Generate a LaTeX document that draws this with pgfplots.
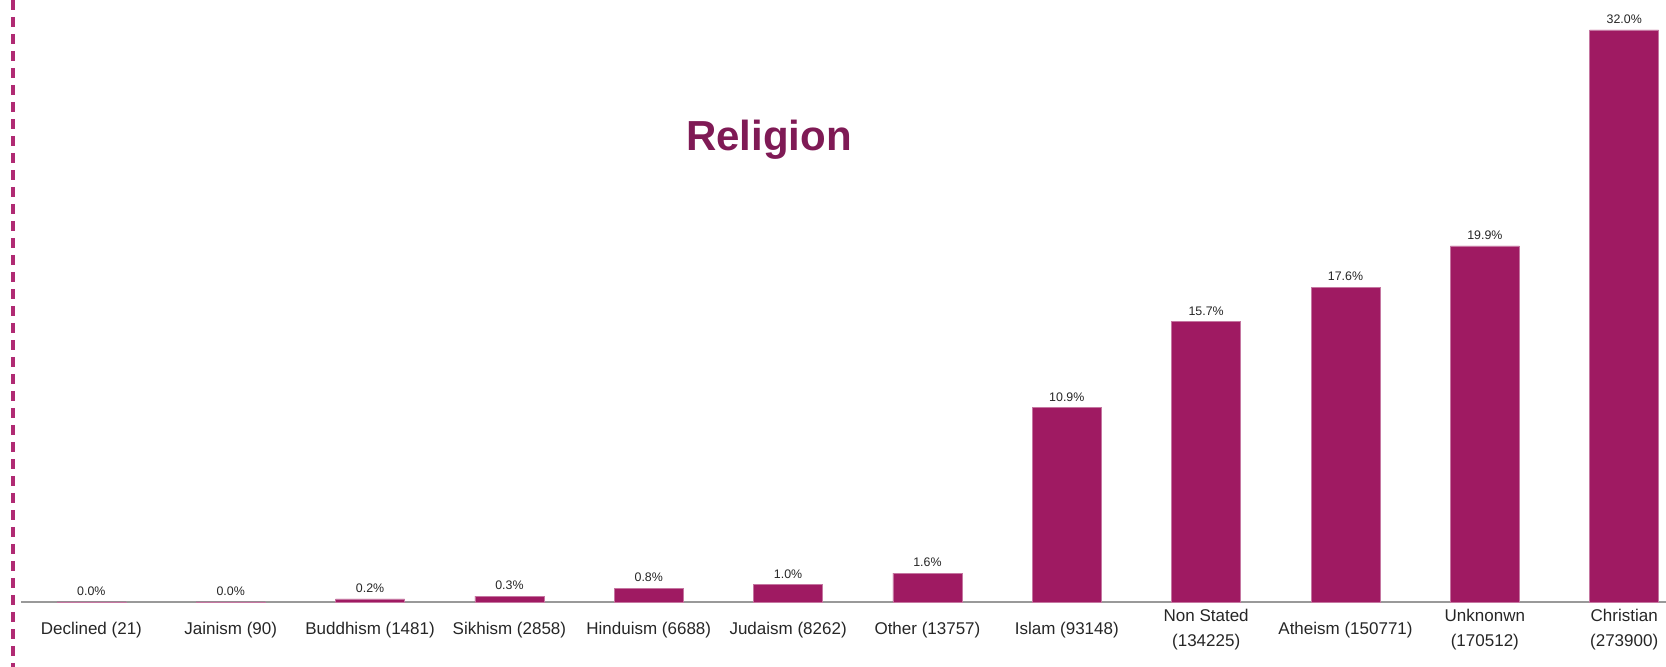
\documentclass[border=0pt]{standalone}
\usepackage{pgfplots}
\pgfplotsset{compat=1.18}
\usepackage{fontspec}
\setmainfont{Liberation Sans}
\definecolor{barcol}{HTML}{9F1A62}
\definecolor{titlecol}{HTML}{7F1A55}
\definecolor{dashcol}{HTML}{B02A73}
\begin{document}
\begin{tikzpicture}[x=1pt,y=1pt]
\useasboundingbox (0,0) rectangle (833,333.5);
\draw[dashcol, line width=2pt, dash pattern=on 5pt off 3.5pt] (6.5,333.5) -- (6.5,0);
\begin{axis}[
  at={(10.5pt,32.5pt)}, anchor=south west,
  scale only axis, width=822.5pt, height=301pt,
  xmin=-0.505, xmax=11.3, ymin=0, ymax=33.68,
  axis y line=none, axis x line=bottom,
  x axis line style={-, draw=black!40, line width=0.6pt},
  major tick length=0pt,
  ytick=\empty,
  xtick={0,...,11},
  xticklabels={Declined (21), Jainism (90), Buddhism (1481), Sikhism (2858), Hinduism (6688), Judaism (8262), Other (13757), Islam (93148), {Non Stated\\(134225)}, Atheism (150771), {Unknonwn\\(170512)}, {Christian\\(273900)}},
  x tick label style={align=center, anchor=center, yshift=-14pt, font=\fontsize{8.5}{12.5}\selectfont, text=black!85},
  ybar, bar width=34.5pt,
  /pgf/number format/assume math mode=true,
  nodes near coords={\pgfmathprintnumber[fixed,fixed zerofill,precision=1]{\pgfplotspointmeta}\%},
  nodes near coords style={font=\fontsize{6.2}{7}\selectfont, text=black!85, inner sep=1pt, yshift=2pt},
  clip=false,
]
\addplot[fill=barcol, draw=barcol!60, line width=0.3pt] coordinates {
(0,0.0025) (1,0.0105) (2,0.173) (3,0.334) (4,0.782) (5,0.965) (6,1.608) (7,10.885) (8,15.686) (9,17.619) (10,19.926) (11,32.008)
};
\end{axis}
\node[font=\fontsize{21}{25}\selectfont\bfseries, text=titlecol] at (384.5,263.5) {Religion};
\end{tikzpicture}
\end{document}
